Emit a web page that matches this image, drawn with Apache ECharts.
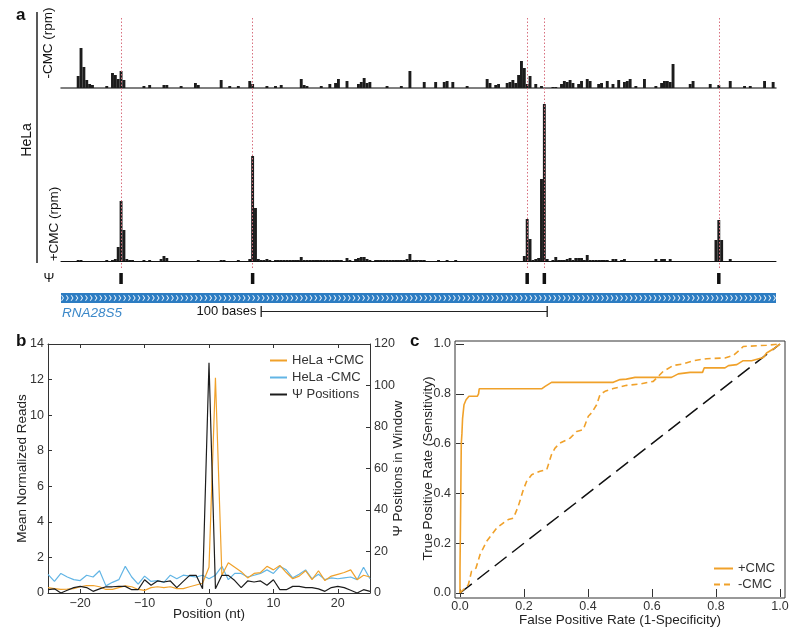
<!DOCTYPE html>
<html><head><meta charset="utf-8">
<script src="https://cdn.jsdelivr.net/npm/echarts@6/dist/echarts.min.js"></script>
<style>html,body{margin:0;padding:0;background:#fff}#c{width:800px;height:637px}</style>
</head><body><div id="c"></div>
<script>
// ---------- Panel a: read coverage tracks (position in bases, height in rpm-like units) ----------
const trackLength = 250;
const minusCMC = [[6,12],[7,40],[8,21],[9,8],[10,4],[11,3],[16,2],[18,15],[19,13],[20,9],[21,17],[22,8],
  [29,2],[31,3],[36,3],[37,3],[42,2],[47,5],[48,3],[56,8],[59,2],[62,2],[66,7],[67,4],[72,2],[75,2],[77,3],
  [84,9],[85,3],[86,2],[91,2],[94,4],[96,5],[97,9],[100,7],[104,4],[105,6],[106,10],[107,5],[108,6],[114,2],
  [119,2],[122,17],[127,6],[131,6],[134,6],[135,7],[137,6],[142,2],[149,9],[150,5],[152,3],[153,4],[156,5],
  [157,6],[158,8],[159,5],[160,13],[161,27],[162,20],[163,4],[164,12],[166,4],[168,2],[172,1],[173,1],
  [175,4],[176,7],[177,6],[178,8],[179,5],[181,4],[182,7],[184,9],[185,7],[188,4],[189,5],[191,7],[193,4],
  [195,8],[197,6],[198,7],[199,9],[201,2],[204,9],[208,2],[210,5],[211,7],[212,7],[213,6],[214,24],[220,4],
  [221,7],[227,4],[230,3],[234,7],[239,2],[241,2],[246,7],[249,6]];
const plusCMC = [[6,1],[7,1],[16,1],[18,1],[19,2],[20,14],[21,60],[22,31],[23,2],[24,1],[25,1],[29,1],[31,1],
  [35,2],[36,5],[37,3],[48,1],[56,1],[57,1],[62,1],[66,2],[67,105],[68,53],[69,2],[70,1],[71,1],[72,2],[73,1],
  [75,1],[76,1],[77,1],[78,1],[79,1],[80,1],[81,1],[82,1],[83,1],[84,4],[85,1],[86,1],[87,1],[88,1],[89,1],
  [90,1],[91,1],[92,1],[93,1],[94,1],[95,1],[96,1],[97,1],[98,1],[100,3],[101,1],[103,2],[104,3],[105,4],
  [106,4],[107,2],[108,1],[110,1],[111,1],[112,1],[113,1],[114,1],[115,1],[116,1],[117,1],[118,1],[119,1],
  [120,1],[121,2],[122,7],[123,1],[124,1],[125,1],[126,1],[127,1],[132,1],[135,1],[138,1],[162,5],[163,42],
  [164,22],[165,1],[166,2],[167,3],[168,82],[169,157],[170,2],[172,1],[173,4],[174,1],[175,1],[176,1],
  [177,2],[178,3],[179,1],[180,3],[181,3],[182,3],[183,1],[184,6],[185,1],[186,1],[187,1],[188,1],[189,1],
  [190,1],[191,1],[193,2],[194,2],[196,1],[197,2],[208,2],[210,2],[211,2],[213,2],[229,21],[230,41],[231,21],[234,2]];
const psiSites = [21, 67, 163, 169, 230];
const geneName = 'RNA28S5';
const scaleStart = 70;
const scaleLength = 100;

// ---------- Panel b: metagene around Ψ ----------
const positions = [-25,-24,-23,-22,-21,-20,-19,-18,-17,-16,-15,-14,-13,-12,-11,-10,-9,-8,-7,-6,-5,-4,-3,-2,-1,
  0,1,2,3,4,5,6,7,8,9,10,11,12,13,14,15,16,17,18,19,20,21,22,23,24,25];
const helaPlusCMC = [0.3,0.25,0.2,0.22,0.25,0.35,0.42,0.42,0.35,0.2,0.2,0.3,0.4,0.35,0.2,0.15,0.3,0.35,0.3,0.35,
  0.25,0.25,0.35,0.45,0.55,1.45,12.1,1.0,1.7,1.45,1.2,0.85,1.1,1.15,1.5,1.3,1.55,1.15,0.8,0.95,1.25,0.75,1.25,
  0.7,0.95,1.05,1.15,1.3,0.75,1.0,0.9];
const helaMinusCMC = [1.05,0.65,1.1,0.9,0.75,0.7,1.0,0.9,1.25,0.4,0.6,0.75,1.5,0.9,0.5,0.95,0.65,0.7,0.6,1.0,
  0.8,1.0,0.95,0.9,1.0,0.8,1.0,1.5,0.75,1.1,1.1,0.9,1.0,1.1,1.3,1.1,1.5,1.3,0.85,1.05,1.3,0.8,1.05,0.75,0.85,
  0.8,0.85,0.9,0.75,1.45,0.8];
const psiCounts = [1.6,2,0,1.3,2.6,3.2,2.6,0.8,2,3,3,3.2,3.2,1.6,1.6,6.4,3.7,5.8,5.3,5.8,2.6,5.6,8.5,8.5,2,
  111,2,8.5,8.5,6,2.6,5.8,5.3,5.8,3.7,6.4,1.6,1.6,3.2,3.2,2.6,2.6,2,0.8,2.6,3.2,2.6,1.3,0,1.6,0.8];

// ---------- Panel c: ROC curves ----------
const rocPlusCMC = [[0,0],[0,0.1],[0.002,0.34],[0.004,0.6],[0.006,0.64],[0.008,0.70],[0.0125,0.756],[0.019,0.776],
  [0.028,0.79],[0.054,0.79],[0.058,0.80],[0.06,0.82],[0.255,0.82],[0.266,0.83],[0.286,0.846],[0.479,0.846],
  [0.5,0.857],[0.52,0.859],[0.547,0.866],[0.661,0.866],[0.682,0.88],[0.719,0.886],[0.758,0.886],[0.763,0.904],
  [0.828,0.904],[0.839,0.913],[0.865,0.917],[0.885,0.933],[0.911,0.933],[0.917,0.941],[0.948,0.946],
  [0.958,0.964],[0.984,0.984],[1,1]];
const rocMinusCMC = [[0,0],[0.026,0.033],[0.036,0.087],[0.05,0.1],[0.0625,0.154],[0.083,0.207],[0.099,0.234],
  [0.115,0.261],[0.135,0.281],[0.151,0.295],[0.167,0.301],[0.182,0.348],[0.198,0.415],[0.208,0.448],
  [0.224,0.475],[0.25,0.489],[0.271,0.495],[0.286,0.556],[0.297,0.582],[0.3125,0.602],[0.344,0.622],
  [0.365,0.649],[0.385,0.656],[0.401,0.71],[0.411,0.723],[0.427,0.756],[0.4375,0.797],[0.453,0.81],
  [0.479,0.821],[0.521,0.834],[0.5625,0.839],[0.604,0.85],[0.635,0.89],[0.667,0.914],[0.698,0.92],
  [0.729,0.933],[0.771,0.941],[0.828,0.944],[0.854,0.954],[0.875,0.977],[0.885,0.99],[0.958,0.995],[1,1]];
const chanceLine = [[0,0],[1,1]];

// ---------- styling ----------
const FONT = '"Liberation Sans", Arial, Helvetica, sans-serif';
const ORANGE = '#f0a12a', BLUE = '#62b5e5', BLACK = '#1c1c1c', GENEBLUE = '#2c7cc2';
const chart = echarts.init(document.getElementById('c'), null, {renderer: 'canvas'});

function trackX(grid, line) {
  return {gridIndex: grid, type: 'value', min: 0, max: trackLength,
    axisLabel: {show: false}, axisTick: {show: false}, splitLine: {show: false},
    axisLine: line ? {show: true, onZero: false, lineStyle: line} : {show: false}};
}
function hiddenY(grid, min, max) {
  return {gridIndex: grid, type: 'value', min: min, max: max, show: false, splitLine: {show: false}};
}
const tickIn = {show: true, inside: true, length: 4, lineStyle: {color: '#333'}};
const lbl = {color: '#333', fontSize: 12.5, fontFamily: FONT};
const nameStyle = {color: '#222', fontSize: 13.5, fontFamily: FONT};
const minusSign = v => String(v).replace('-', '\u2212');

const rotText = (x, y, text, size) => ({type: 'text', x: x, y: y, rotation: Math.PI / 2,
  style: {text: text, fill: '#111', font: size + 'px ' + FONT, align: 'center', verticalAlign: 'middle',
    textAlign: 'center', textVerticalAlign: 'middle'}});
const plainText = (x, y, text, font, fill, align) => ({type: 'text', x: x, y: y,
  style: {text: text, fill: fill || '#111', font: font, align: align || 'left', verticalAlign: 'middle',
    textAlign: align || 'left', textVerticalAlign: 'middle'}});
const noSymbol = {color: 'transparent', borderColor: 'transparent', borderWidth: 0, opacity: 0};

const option = {
  animation: false,
  textStyle: {fontFamily: FONT},
  grid: [
    {left: 61, right: 24, top: 43, height: 45},     // 0 -CMC track
    {left: 61, right: 24, top: 104, height: 157},   // 1 +CMC track
    {left: 61, right: 24, top: 273, height: 11},    // 2 psi markers
    {left: 61, right: 24, top: 293, height: 10},    // 3 gene
    {left: 61, right: 24, top: 306, height: 11},    // 4 scale bar
    {left: 61, right: 24, top: 17, height: 251},    // 5 guide lines
    {left: 48, right: 430, top: 344, height: 249},  // 6 panel b
    {left: 455, right: 15, top: 341, height: 257, show: true, borderColor: '#333', borderWidth: 1, backgroundColor: 'transparent'}, // 7 panel c frame
    {left: 460, right: 20, top: 344, height: 249}   // 8 panel c data
  ],
  xAxis: [
    trackX(0, {color: '#555', width: 1.5}),
    trackX(1, {color: '#111', width: 1}),
    trackX(2, null),
    trackX(3, null),
    trackX(4, null),
    trackX(5, null),
    {gridIndex: 6, type: 'value', min: -25, max: 25, position: 'bottom',
      axisLine: {show: true, onZero: false, lineStyle: {color: '#333'}}, axisTick: tickIn, splitLine: {show: false},
      axisLabel: Object.assign({margin: 4, formatter: minusSign, showMinLabel: false, showMaxLabel: false}, lbl),
      name: 'Position (nt)', nameLocation: 'middle', nameGap: 14, nameMoveOverlap: false, nameTextStyle: nameStyle},
    {gridIndex: 6, type: 'value', min: -25, max: 25, position: 'top',
      axisLine: {show: true, onZero: false, lineStyle: {color: '#333'}}, axisTick: tickIn, splitLine: {show: false},
      axisLabel: {show: false}},
    {gridIndex: 7, type: 'value', min: 0, max: 1, show: false},
    {gridIndex: 8, type: 'value', min: 0, max: 1, interval: 0.2, position: 'bottom', offset: 4,
      axisLine: {show: false}, axisTick: tickIn, splitLine: {show: false},
      axisLabel: Object.assign({margin: 3, formatter: v => v.toFixed(1)}, lbl),
      name: 'False Positive Rate (1-Specificity)', nameLocation: 'middle', nameGap: 16, nameMoveOverlap: false, nameTextStyle: nameStyle},
    {gridIndex: 8, type: 'value', min: 0, max: 1, interval: 0.2, position: 'top', offset: 3,
      axisLine: {show: false}, axisTick: tickIn, splitLine: {show: false}, axisLabel: {show: false}}
  ],
  yAxis: [
    hiddenY(0, 0, 45),
    hiddenY(1, 0, 157),
    hiddenY(2, 0, 1),
    {gridIndex: 3, type: 'category', data: [geneName], show: false},
    hiddenY(4, -1, 1),
    hiddenY(5, 0, 1),
    {gridIndex: 6, type: 'value', min: 0, max: 14, interval: 2, position: 'left',
      axisLine: {show: true, onZero: false, lineStyle: {color: '#333'}}, axisTick: tickIn, splitLine: {show: false},
      axisLabel: Object.assign({margin: 4}, lbl),
      name: 'Mean Normalized Reads', nameLocation: 'middle', nameGap: 19, nameMoveOverlap: false, nameRotate: 90, nameTextStyle: nameStyle},
    {gridIndex: 6, type: 'value', min: 0, max: 120, interval: 20, position: 'right',
      axisLine: {show: true, onZero: false, lineStyle: {color: '#333'}}, axisTick: tickIn, splitLine: {show: false},
      axisLabel: Object.assign({margin: 4}, lbl),
      name: '\u03A8 Positions in Window', nameLocation: 'middle', nameGap: 21, nameMoveOverlap: false, nameRotate: 90, nameTextStyle: nameStyle},
    {gridIndex: 7, type: 'value', min: 0, max: 1, show: false},
    {gridIndex: 8, type: 'value', min: 0, max: 1, interval: 0.2, position: 'left', offset: 5,
      axisLine: {show: false}, axisTick: tickIn, splitLine: {show: false},
      axisLabel: Object.assign({margin: 4, formatter: v => v.toFixed(1)}, lbl),
      name: 'True Positive Rate (Sensitivity)', nameLocation: 'middle', nameGap: 20, nameMoveOverlap: false, nameRotate: 90, nameTextStyle: nameStyle},
    {gridIndex: 8, type: 'value', min: 0, max: 1, interval: 0.2, position: 'right', offset: 5,
      axisLine: {show: false}, axisTick: tickIn, splitLine: {show: false}, axisLabel: {show: false}}
  ],
  legend: [
    {data: ['HeLa +CMC', 'HeLa -CMC', '\u03A8 Positions'], orient: 'vertical', left: 264, top: 349,
      itemWidth: 17, itemHeight: 12, itemGap: 4, itemStyle: noSymbol,
      textStyle: {fontSize: 13, color: '#333', fontFamily: FONT}},
    {data: ['+CMC', '-CMC'], orient: 'vertical', left: 708, top: 557,
      itemWidth: 19, itemHeight: 12, itemGap: 3, itemStyle: noSymbol,
      textStyle: {fontSize: 13, color: '#333', fontFamily: FONT}}
  ],
  graphic: [
    plainText(16, 15, 'a', 'bold 17px ' + FONT, '#111'),
    plainText(16, 341, 'b', 'bold 17px ' + FONT, '#111'),
    plainText(410, 341, 'c', 'bold 17px ' + FONT, '#111'),
    {type: 'line', shape: {x1: 37, y1: 12, x2: 37, y2: 263}, style: {stroke: '#222', lineWidth: 1.5}},
    rotText(48, 43, '-CMC (rpm)', 13.5),
    rotText(27, 140, 'HeLa', 14),
    rotText(54, 224, '+CMC (rpm)', 13.5),
    plainText(49, 278, '\u03A8', '13px ' + FONT, '#111', 'center'),
    plainText(62, 313, geneName, 'italic 13.5px ' + FONT, '#3b88c9')
  ],
  series: [
    {type: 'bar', xAxisIndex: 0, yAxisIndex: 0, data: minusCMC, barWidth: 2.9, itemStyle: {color: BLACK}, silent: true, z: 3},
    {type: 'bar', xAxisIndex: 1, yAxisIndex: 1, data: plusCMC, barWidth: 2.9, itemStyle: {color: BLACK}, silent: true, z: 3},
    {type: 'bar', xAxisIndex: 2, yAxisIndex: 2, data: psiSites.map(p => [p, 1]), barWidth: 3.5, itemStyle: {color: '#111'}, silent: true},
    {type: 'bar', xAxisIndex: 3, yAxisIndex: 3, data: [trackLength], barWidth: 10, itemStyle: {color: GENEBLUE}, silent: true},
    {type: 'pictorialBar', xAxisIndex: 3, yAxisIndex: 3, data: [trackLength], silent: true, z: 4,
      symbol: 'path://M0,0 L1.7,0 L4.5,4 L1.7,8 L0,8 L2.8,4 Z', symbolRepeat: true, symbolSize: [3, 5.5],
      symbolMargin: 0.9, symbolPosition: 'start', itemStyle: {color: '#e8f2fb'}},
    {type: 'line', xAxisIndex: 4, yAxisIndex: 4, silent: true, symbol: 'rect', symbolSize: [1.3, 11],
      lineStyle: {color: '#222', width: 1}, itemStyle: {color: '#222'},
      data: [{value: [scaleStart, 0], label: {show: true, position: 'left', distance: 4, formatter: scaleLength + ' bases',
        color: '#111', fontSize: 13, fontFamily: FONT}}, {value: [scaleStart + scaleLength, 0]}]},
    {type: 'line', xAxisIndex: 5, yAxisIndex: 5, data: [], silent: true, z: 1,
      markLine: {silent: true, symbol: ['none', 'none'], label: {show: false},
        lineStyle: {color: '#d8707f', type: [1.5, 2], width: 1}, data: psiSites.map(p => ({xAxis: p}))}},
    {name: 'HeLa +CMC', type: 'line', xAxisIndex: 6, yAxisIndex: 6, symbol: 'none',
      data: positions.map((p, i) => [p, helaPlusCMC[i]]), lineStyle: {color: ORANGE, width: 1.2}, itemStyle: {color: ORANGE}, z: 3},
    {name: 'HeLa -CMC', type: 'line', xAxisIndex: 6, yAxisIndex: 6, symbol: 'none',
      data: positions.map((p, i) => [p, helaMinusCMC[i]]), lineStyle: {color: BLUE, width: 1.2}, itemStyle: {color: BLUE}, z: 2},
    {name: '\u03A8 Positions', type: 'line', xAxisIndex: 6, yAxisIndex: 7, symbol: 'none',
      data: positions.map((p, i) => [p, psiCounts[i]]), lineStyle: {color: BLACK, width: 1.2}, itemStyle: {color: BLACK}, z: 4},
    {name: '+CMC', type: 'line', xAxisIndex: 9, yAxisIndex: 9, symbol: 'none', data: rocPlusCMC,
      lineStyle: {color: ORANGE, width: 1.6}, itemStyle: {color: ORANGE}, z: 4},
    {name: '-CMC', type: 'line', xAxisIndex: 9, yAxisIndex: 9, symbol: 'none', data: rocMinusCMC,
      lineStyle: {color: ORANGE, width: 1.6, type: [6, 4]}, itemStyle: {color: ORANGE}, z: 3},
    {type: 'line', xAxisIndex: 9, yAxisIndex: 9, symbol: 'none', data: chanceLine, silent: true,
      lineStyle: {color: '#111', width: 1.5, type: [15, 7]}, z: 2}
  ]
};
chart.setOption(option);
</script>
</body></html>
